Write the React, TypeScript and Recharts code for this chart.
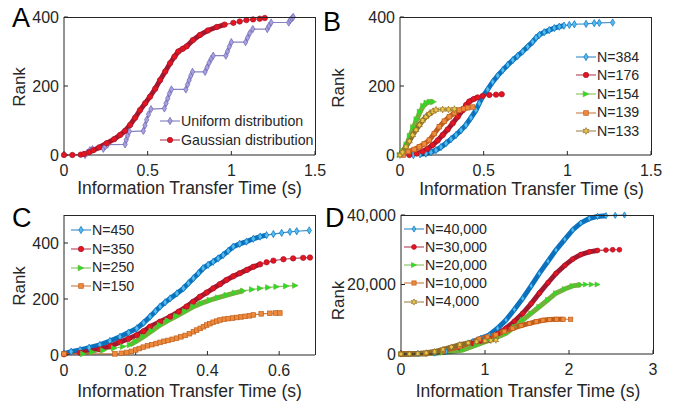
import React from 'react'
import { LineChart, Line, XAxis, YAxis } from 'recharts'

type Pt = [number, number]
type Shape = 'circle' | 'diamond' | 'triangle' | 'square' | 'hexagram'

// ---- panel A: uniform vs gaussian distribution ----
const uniformDist: Pt[] = [
  [0.126, 0], [0.14, 7], [0.155, 14], [0.17, 17],
  [0.235, 18], [0.247, 25], [0.26, 30],
  [0.365, 31], [0.372, 44], [0.38, 56], [0.39, 68],
  [0.474, 70], [0.484, 86], [0.494, 102], [0.505, 118], [0.52, 133],
  [0.6, 135], [0.61, 150], [0.62, 164], [0.63, 178], [0.642, 190],
  [0.728, 190], [0.738, 204], [0.748, 217], [0.758, 230], [0.768, 241],
  [0.843, 241], [0.855, 254], [0.867, 267], [0.88, 279], [0.892, 288],
  [0.967, 288], [0.977, 300], [0.988, 314], [1.0, 327],
  [1.085, 327], [1.097, 340], [1.11, 353], [1.128, 365],
  [1.215, 365], [1.225, 374], [1.238, 384],
  [1.343, 384], [1.352, 391], [1.362, 396], [1.37, 400],
]
const gaussianDist: Pt[] = [
  [0, 0], [0.05, 0], [0.1, 1], [0.12, 3], [0.15, 8], [0.175, 14], [0.21, 22], [0.255, 34],
  [0.3, 46], [0.335, 58], [0.365, 70], [0.395, 87], [0.425, 108], [0.454, 130], [0.485, 150],
  [0.514, 169], [0.545, 192], [0.574, 217], [0.605, 242], [0.634, 266], [0.66, 285], [0.683, 300],
  [0.71, 308], [0.733, 315], [0.77, 333], [0.813, 348], [0.86, 361], [0.913, 371], [0.96, 378],
  [1.012, 383], [1.05, 387], [1.09, 391], [1.13, 393], [1.17, 395], [1.2, 397],
]
const labelsA = ['Uniform distribution', 'Gaussian distribution']

// ---- panel B: measured networks ----
const n384B: Pt[] = [
  [0.08, 0], [0.12, 2], [0.155, 4], [0.185, 8], [0.215, 14], [0.245, 23], [0.275, 34], [0.305, 46],
  [0.335, 58], [0.365, 72], [0.394, 87], [0.424, 108], [0.454, 130], [0.474, 150], [0.494, 169],
  [0.524, 190], [0.554, 212], [0.584, 230], [0.614, 246], [0.644, 261], [0.674, 275], [0.703, 287],
  [0.733, 300], [0.763, 314], [0.793, 328], [0.813, 340], [0.833, 348], [0.862, 356], [0.892, 362],
  [0.922, 368], [0.952, 372], [0.98, 375], [1.012, 377], [1.042, 379], [1.112, 380], [1.161, 382],
  [1.191, 383], [1.271, 384],
]
const n176B: Pt[] = [
  [0.056, 0], [0.1, 4], [0.135, 10], [0.165, 18], [0.195, 29], [0.225, 42], [0.255, 58], [0.285, 74],
  [0.315, 92], [0.345, 111], [0.375, 130], [0.395, 145], [0.414, 155], [0.44, 162], [0.464, 167],
  [0.494, 171], [0.534, 174], [0.574, 175], [0.608, 176],
]
const n154B: Pt[] = [
  [0, 0], [0.02, 12], [0.04, 30], [0.06, 55], [0.08, 80], [0.1, 103], [0.12, 125], [0.14, 142],
  [0.16, 151], [0.18, 154], [0.2, 154],
]
const n139B: Pt[] = [
  [0.02, 0], [0.05, 10], [0.085, 16], [0.116, 24], [0.145, 32], [0.175, 43], [0.205, 62], [0.235, 82],
  [0.265, 98], [0.295, 111], [0.325, 122], [0.354, 130], [0.38, 134], [0.404, 137], [0.434, 139],
]
const n133B: Pt[] = [
  [0, 0], [0.015, 8], [0.036, 24], [0.056, 40], [0.076, 58], [0.096, 73], [0.116, 87], [0.135, 100],
  [0.155, 111], [0.175, 119], [0.195, 126], [0.215, 131], [0.255, 132], [0.29, 132], [0.325, 133],
]
const labelsB = ['N=384', 'N=176', 'N=154', 'N=139', 'N=133']

// ---- panel C: small simulated networks ----
const n450C: Pt[] = [
  [0, 5], [0.02, 12], [0.045, 18], [0.07, 26], [0.1, 36], [0.128, 50], [0.156, 65], [0.18, 80],
  [0.203, 95], [0.222, 115], [0.24, 137], [0.255, 156], [0.268, 173], [0.282, 188], [0.296, 202],
  [0.315, 220], [0.333, 238], [0.347, 256], [0.361, 274], [0.375, 292], [0.388, 310], [0.402, 322],
  [0.416, 333], [0.43, 345], [0.444, 357], [0.458, 372], [0.472, 387], [0.49, 397], [0.509, 405],
  [0.528, 415], [0.547, 423], [0.565, 428], [0.584, 432], [0.607, 436], [0.63, 440], [0.649, 442],
  [0.684, 445],
]
const n350C: Pt[] = [
  [0, 3], [0.045, 8], [0.1, 20], [0.13, 32], [0.156, 46], [0.18, 58], [0.203, 71], [0.222, 85],
  [0.24, 101], [0.268, 119], [0.296, 137], [0.32, 155], [0.342, 173], [0.36, 190], [0.379, 208],
  [0.398, 223], [0.416, 238], [0.435, 253], [0.453, 268], [0.472, 281], [0.49, 292], [0.51, 304],
  [0.528, 315], [0.547, 324], [0.565, 331], [0.584, 337], [0.612, 342], [0.639, 345], [0.667, 347],
  [0.686, 348],
]
const n250C: Pt[] = [
  [0.054, 4], [0.08, 10], [0.11, 16], [0.14, 24], [0.165, 30], [0.184, 36], [0.2, 48], [0.221, 65],
  [0.245, 86], [0.268, 107], [0.29, 123], [0.314, 139], [0.338, 156], [0.361, 173], [0.384, 185],
  [0.407, 196], [0.43, 205], [0.454, 214], [0.477, 222], [0.5, 229], [0.525, 234], [0.547, 238],
  [0.57, 241], [0.593, 244], [0.62, 246], [0.645, 248],
]
const n150C: Pt[] = [
  [0, 4], [0.142, 4], [0.16, 6], [0.175, 9], [0.188, 13], [0.2, 18], [0.21, 23], [0.221, 28],
  [0.233, 33], [0.245, 37], [0.257, 41], [0.268, 45], [0.279, 49], [0.29, 52], [0.302, 56],
  [0.314, 60], [0.326, 65], [0.338, 70], [0.35, 76], [0.361, 83], [0.37, 89], [0.38, 95],
  [0.389, 101], [0.398, 107], [0.407, 112], [0.416, 117], [0.426, 121], [0.435, 125], [0.447, 128],
  [0.458, 130], [0.47, 132], [0.482, 134], [0.494, 136], [0.505, 138], [0.517, 140], [0.528, 143],
  [0.55, 147], [0.574, 149], [0.59, 150], [0.602, 150],
]
const labelsC = ['N=450', 'N=350', 'N=250', 'N=150']

// ---- panel D: large simulated networks ----
const n40kD: Pt[] = [
  [0, 0], [0.2, 60], [0.4, 250], [0.536, 660], [0.7, 1800], [0.853, 3540], [0.95, 4500],
  [1.05, 5470], [1.15, 7400], [1.25, 9780], [1.35, 12800], [1.449, 16000], [1.55, 19600],
  [1.647, 23200], [1.75, 26700], [1.845, 29900], [1.95, 33000], [2.044, 35700], [2.14, 37700],
  [2.242, 39000], [2.34, 39600], [2.44, 39800], [2.55, 39900], [2.66, 40000],
]
const n30kD: Pt[] = [
  [0, 0], [0.3, 100], [0.5, 600], [0.7, 1800], [0.853, 3080], [0.95, 3800], [1.05, 4500],
  [1.15, 5800], [1.25, 7400], [1.35, 9400], [1.449, 11700], [1.55, 14500], [1.647, 17500],
  [1.75, 20500], [1.845, 23200], [1.95, 25500], [2.044, 27300], [2.14, 28600], [2.242, 29400],
  [2.34, 29800], [2.44, 29900], [2.52, 30000], [2.6, 30000],
]
const n20kD: Pt[] = [
  [0, 0], [0.3, 80], [0.5, 400], [0.734, 1150], [0.9, 2600], [1.05, 4000], [1.15, 4900],
  [1.25, 5950], [1.35, 7800], [1.449, 9800], [1.55, 11700], [1.647, 13600], [1.75, 15600],
  [1.845, 17500], [1.95, 18700], [2.044, 19600], [2.14, 19900], [2.2, 20000], [2.27, 20000],
  [2.34, 20000],
]
const n10kD: Pt[] = [
  [0, 0], [0.3, 200], [0.5, 900], [0.7, 2100], [0.93, 4300], [1.03, 4900], [1.13, 5500],
  [1.23, 6500], [1.33, 7400], [1.43, 8200], [1.53, 8800], [1.61, 9300], [1.69, 9700],
  [1.77, 9900], [1.85, 10000], [1.93, 10000], [2.02, 10000],
]
const n4kD: Pt[] = [
  [0, 0], [0.1, 30], [0.2, 120], [0.3, 350], [0.4, 700], [0.5, 1300], [0.6, 2000], [0.7, 2700],
  [0.8, 3200], [0.9, 3550], [1.0, 3800], [1.07, 3900], [1.13, 4000],
]
const labelsD = ['N=40,000', 'N=30,000', 'N=20,000', 'N=10,000', 'N=4,000']

const rankTicks = [0, 200, 400]
const timeTicksAB = [0, 0.5, 1, 1.5]
const timeTicksC = [0, 0.2, 0.4, 0.6]
const timeTicksD = [0, 1, 2, 3]
const rankTicksD = [0, 20000, 40000]

const FONT = '"Liberation Sans", Arial, Helvetica, sans-serif'
const INK = '#262626'

const COLORS = {
  purple: { stroke: '#6A62B3', face: '#A7A1DE' },
  red: { stroke: '#A3172F', face: '#E5141F' },
  blue: { stroke: '#0C72BE', face: '#52BCEE' },
  green: { stroke: '#6FB43A', face: '#22E022' },
  orange: { stroke: '#BF5E1C', face: '#EE8A3C' },
  gold: { stroke: '#8B6B2A', face: '#EFC645' },
}

interface Series {
  name: string
  pts: Pt[]
  color: { stroke: string; face: string }
  shape: Shape
  size: number
  band?: [number, number] // x-range where the markers pile up into a thick band
}

interface MarkerProps { cx?: number; cy?: number; shape: Shape; size: number; stroke: string; face: string }

function Marker({ cx, cy, shape, size, stroke, face }: MarkerProps) {
  if (cx == null || cy == null) return null
  const common = { fill: face, stroke, strokeWidth: 0.7 }
  if (shape === 'circle') return <circle cx={cx} cy={cy} r={size} {...common} />
  if (shape === 'diamond')
    return <polygon points={`${cx},${cy - size * 1.35} ${cx + size * 0.8},${cy} ${cx},${cy + size * 1.35} ${cx - size * 0.8},${cy}`} {...common} />
  if (shape === 'triangle')
    return <polygon points={`${cx - size},${cy - size} ${cx + size},${cy} ${cx - size},${cy + size}`} {...common} />
  if (shape === 'square') return <rect x={cx - size} y={cy - size} width={size * 2} height={size * 2} {...common} />
  const pts: string[] = []
  for (let i = 0; i < 12; i++) {
    const r = i % 2 === 0 ? size * 1.3 : size * 0.65
    const a = -Math.PI / 2 + (i * Math.PI) / 6
    pts.push(`${cx + r * Math.cos(a)},${cy + r * Math.sin(a)}`)
  }
  return <polygon points={pts.join(' ')} {...common} />
}

const toRows = (pts: Pt[]) => pts.map(([x, y]) => ({ x, y }))

function renderSeries(s: Series, id: string) {
  const out = []
  if (s.band) {
    const [a, b] = s.band
    out.push(
      <Line key={`${id}-band`} data={toRows(s.pts.filter(([x]) => x >= a && x <= b))} dataKey="y" type="linear"
        stroke={s.color.stroke} strokeWidth={5} dot={false} activeDot={false} legendType="none" isAnimationActive={false} />
    )
  }
  out.push(
    <Line key={`${id}-line`} data={toRows(s.pts)} dataKey="y" type="linear" stroke={s.color.stroke} strokeOpacity={0.8}
      strokeWidth={1.2} activeDot={false} isAnimationActive={false}
      dot={(p: any) => (
        <g key={`${id}-dot-${p.index}`}>
          <Marker cx={p.cx} cy={p.cy} shape={s.shape} size={s.size} stroke={s.color.stroke} face={s.color.face} />
        </g>
      )} />
  )
  return out
}

interface PanelProps {
  id: string
  letter: string
  letterAt: [number, number]
  left: number
  top: number
  width: number
  height: number
  margin: { top: number; right: number; bottom: number; left: number }
  yAxisWidth: number
  xAxisHeight: number
  xDomain: [number, number]
  xTicks: number[]
  yDomain: [number, number]
  yTicks: number[]
  yFmt?: (v: number) => string
  rankX: number
  rankShift: number
  xLabelOffset: number
  xLabelDx: number
  series: Series[]
  legendAt: [number, number]
  legendRow: number
}

const axisStroke = { stroke: INK, strokeWidth: 1 }
const tickFont = { fontSize: 16, fill: INK, fontFamily: FONT }

function Panel(p: PanelProps) {
  const rankLabel = (props: any) => {
    const vb = props.viewBox
    const x = vb.x + p.rankX
    const y = vb.y + vb.height / 2 + p.rankShift
    return (
      <text x={x} y={y} dy="0.35em" transform={`rotate(-90, ${x}, ${y})`} textAnchor="middle"
        fontSize={17} fill={INK} fontFamily={FONT}>Rank</text>
    )
  }
  // plot rectangle from the same layout numbers the chart uses, for the top/right box edges
  const plotLeft = p.margin.left + p.yAxisWidth
  const plotTop = p.margin.top
  const plotW = p.width - plotLeft - p.margin.right
  const plotH = p.height - plotTop - p.margin.bottom - p.xAxisHeight
  return (
    <div style={{ position: 'absolute', left: p.left, top: p.top, width: p.width, height: p.height }}>
      <LineChart width={p.width} height={p.height} margin={p.margin}>
        <XAxis dataKey="x" type="number" domain={p.xDomain} ticks={p.xTicks} interval={0} height={p.xAxisHeight}
          tickSize={-4} tickMargin={14} axisLine={axisStroke} tickLine={axisStroke} tick={tickFont}
          label={{ value: 'Information Transfer Time (s)', position: 'insideBottom', offset: p.xLabelOffset, dx: p.xLabelDx,
            fontSize: 17.5, fill: INK, fontFamily: FONT }} />
        <YAxis type="number" domain={p.yDomain} ticks={p.yTicks} interval={0} width={p.yAxisWidth}
          tickSize={-4} tickMargin={9} axisLine={axisStroke} tickLine={axisStroke} tick={tickFont}
          tickFormatter={p.yFmt} label={rankLabel} />
        {p.series.flatMap((s, i) => renderSeries(s, `${p.id}${i}`))}
      </LineChart>
      <div style={{ position: 'absolute', left: plotLeft, top: plotTop - 0.5, width: plotW + 0.5, height: plotH + 0.5,
        boxSizing: 'border-box', borderTop: `1px solid ${INK}`, borderRight: `1px solid ${INK}`, pointerEvents: 'none' }} />
      <div style={{ position: 'absolute', left: p.legendAt[0], top: p.legendAt[1], fontFamily: FONT, fontSize: 14.2, color: INK }}>
        {p.series.map((s) => (
          <div key={s.name} style={{ display: 'flex', alignItems: 'center', height: p.legendRow, lineHeight: `${p.legendRow}px`, whiteSpace: 'nowrap' }}>
            <svg width={20} height={12} style={{ display: 'block' }}>
              <line x1={0} x2={20} y1={6} y2={6} stroke={s.color.stroke} strokeOpacity={0.7} strokeWidth={1.3} />
              <Marker cx={10} cy={6} shape={s.shape} size={s.size} stroke={s.color.stroke} face={s.color.face} />
            </svg>
            <span style={{ marginLeft: 1 }}>{s.name}</span>
          </div>
        ))}
      </div>
      <div style={{ position: 'absolute', left: p.letterAt[0], top: p.letterAt[1], fontFamily: FONT, fontSize: 27, lineHeight: '27px', color: '#000' }}>
        {p.letter}
      </div>
    </div>
  )
}

const seriesA: Series[] = [
  { name: labelsA[0], pts: uniformDist, color: COLORS.purple, shape: 'diamond', size: 2.7 },
  { name: labelsA[1], pts: gaussianDist, color: COLORS.red, shape: 'circle', size: 2.7, band: [0.12, 1.0] },
]
const seriesB: Series[] = [
  { name: labelsB[0], pts: n384B, color: COLORS.blue, shape: 'diamond', size: 2.7, band: [0.1, 0.98] },
  { name: labelsB[1], pts: n176B, color: COLORS.red, shape: 'circle', size: 2.7, band: [0.08, 0.47] },
  { name: labelsB[2], pts: n154B, color: COLORS.green, shape: 'triangle', size: 2.8, band: [0, 0.2] },
  { name: labelsB[3], pts: n139B, color: COLORS.orange, shape: 'square', size: 2.3, band: [0.03, 0.404] },
  { name: labelsB[4], pts: n133B, color: COLORS.gold, shape: 'hexagram', size: 2.6, band: [0, 0.2] },
]
const seriesC: Series[] = [
  { name: labelsC[0], pts: n450C, color: COLORS.blue, shape: 'diamond', size: 2.7, band: [0, 0.565] },
  { name: labelsC[1], pts: n350C, color: COLORS.red, shape: 'circle', size: 2.7, band: [0.045, 0.547] },
  { name: labelsC[2], pts: n250C, color: COLORS.green, shape: 'triangle', size: 2.8, band: [0.184, 0.5] },
  { name: labelsC[3], pts: n150C, color: COLORS.orange, shape: 'square', size: 2.3 },
]
const seriesD: Series[] = [
  { name: labelsD[0], pts: n40kD, color: COLORS.blue, shape: 'diamond', size: 2.3, band: [0, 2.44] },
  { name: labelsD[1], pts: n30kD, color: COLORS.red, shape: 'circle', size: 2.4, band: [0, 2.34] },
  { name: labelsD[2], pts: n20kD, color: COLORS.green, shape: 'triangle', size: 2.5, band: [0, 2.14] },
  { name: labelsD[3], pts: n10kD, color: COLORS.orange, shape: 'square', size: 2.1, band: [0, 1.93] },
  { name: labelsD[4], pts: n4kD, color: COLORS.gold, shape: 'hexagram', size: 2.4, band: [0, 1.07] },
]

export default function App() {
  return (
    <div style={{ position: 'absolute', left: 0, top: 0, width: 676, height: 402, background: '#fff', overflow: 'hidden' }}>
      <Panel id="A" letter="A" letterAt={[12, 4.5]} left={0} top={0} width={328} height={200}
        margin={{ top: 17, right: 13, bottom: 0, left: 0 }} yAxisWidth={64} xAxisHeight={45}
        xDomain={[0, 1.5]} xTicks={timeTicksAB} yDomain={[0, 400]} yTicks={rankTicks}
        rankX={19} rankShift={1} xLabelOffset={6} xLabelDx={0}
        series={seriesA} legendAt={[160, 111.5]} legendRow={19} />
      <Panel id="B" letter="B" letterAt={[-7, 8.5]} left={330} top={0} width={346} height={200}
        margin={{ top: 17, right: 25, bottom: 0, left: 0 }} yAxisWidth={70} xAxisHeight={45}
        xDomain={[0, 1.5]} xTicks={timeTicksAB} yDomain={[0, 400]} yTicks={rankTicks}
        rankX={8} rankShift={2} xLabelOffset={5} xLabelDx={6}
        series={seriesB} legendAt={[246, 47.5]} legendRow={18.6} />
      <Panel id="C" letter="C" letterAt={[12, 4.5]} left={0} top={200} width={328} height={202}
        margin={{ top: 15, right: 13, bottom: 0, left: 0 }} yAxisWidth={64} xAxisHeight={47}
        xDomain={[0, 0.7]} xTicks={timeTicksC} yDomain={[0, 500]} yTicks={rankTicks}
        rankX={19} rankShift={1} xLabelOffset={5} xLabelDx={0}
        series={seriesC} legendAt={[71, 21]} legendRow={18.7} />
      <Panel id="D" letter="D" letterAt={[-5, 4.5]} left={330} top={200} width={346} height={202}
        margin={{ top: 15, right: 23, bottom: 0, left: 0 }} yAxisWidth={71} xAxisHeight={48}
        xDomain={[0, 3]} xTicks={timeTicksD} yDomain={[0, 40000]} yTicks={rankTicksD}
        yFmt={(v: number) => v.toLocaleString('en-US')}
        rankX={8} rankShift={16} xLabelOffset={5} xLabelDx={1}
        series={seriesD} legendAt={[74, 19.7]} legendRow={18.2} />
    </div>
  )
}
